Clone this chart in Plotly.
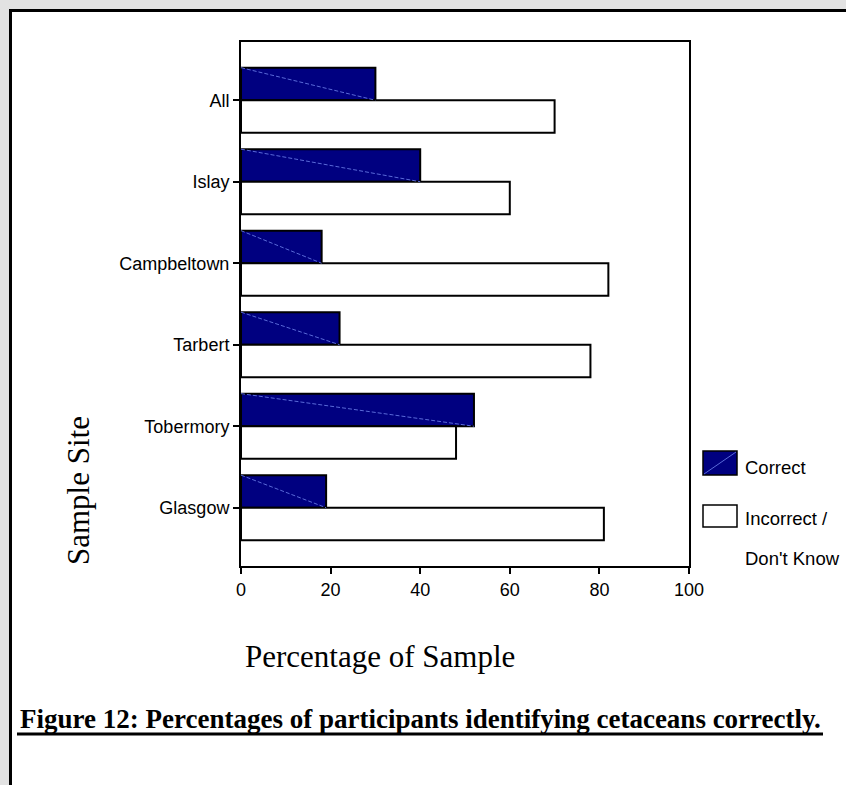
import plotly.graph_objects as go

# Survey results per sample site (percent of respondents)
sites = ["All", "Islay", "Campbeltown", "Tarbert", "Tobermory", "Glasgow"]
correct = [30, 40, 18, 22, 52, 19]
incorrect = [70, 60, 82, 78, 48, 81]
x_ticks = [0, 20, 40, 60, 80, 100]

NAVY = "#000080"
STREAK = "#5a6ad8"
SANS = "Arial, Liberation Sans, sans-serif"
SERIF = "Times New Roman, Liberation Serif, serif"

# numeric category positions, first site at the top
pos = list(range(len(sites) - 1, -1, -1))
bw = 0.4

W, H = 846, 785
L, R, T, B = 241, 157, 42, 219
PW, PH = W - L - R, H - T - B


def px(x):
    return (x - L) / PW


def py(y):
    return (H - B - y) / PH


fig = go.Figure()

fig.add_trace(go.Bar(
    y=pos, x=correct, orientation="h", width=bw, offset=0,
    marker=dict(color=NAVY, line=dict(color="black", width=2)),
    name="Correct", showlegend=False, hoverinfo="x",
))
fig.add_trace(go.Bar(
    y=pos, x=incorrect, orientation="h", width=bw, offset=-bw,
    marker=dict(color="white", line=dict(color="black", width=2)),
    name="Incorrect / Don't Know", showlegend=False, hoverinfo="x",
))

# light diagonal streak across each navy bar
sx, sy = [], []
for p, v in zip(pos, correct):
    sx += [0, v, None]
    sy += [p + bw, p, None]
fig.add_trace(go.Scatter(
    x=sx, y=sy, mode="lines", showlegend=False, hoverinfo="skip",
    line=dict(color=STREAK, width=1, dash="4px,2px"),
))

shapes = [
    # white page panel with heavy border
    dict(type="rect", xref="paper", yref="paper",
         x0=px(10.5), x1=px(900), y0=py(900), y1=py(10.5),
         fillcolor="white", line=dict(color="black", width=3), layer="below"),
    # legend swatches
    dict(type="rect", xref="paper", yref="paper",
         x0=px(703), x1=px(737), y0=py(475), y1=py(451),
         fillcolor=NAVY, line=dict(color="black", width=1.5)),
    dict(type="line", xref="paper", yref="paper",
         x0=px(704), x1=px(736), y0=py(474), y1=py(452),
         line=dict(color=STREAK, width=1)),
    dict(type="rect", xref="paper", yref="paper",
         x0=px(703), x1=px(737), y0=py(527), y1=py(505),
         fillcolor="white", line=dict(color="black", width=1.5)),
    # caption underline
    dict(type="line", xref="paper", yref="paper",
         x0=px(17), x1=px(823), y0=py(734), y1=py(734),
         line=dict(color="black", width=3)),
]

annotations = [
    dict(text="Correct", x=px(743), y=py(467), xanchor="left", yanchor="middle"),
    dict(text="Incorrect /", x=px(743), y=py(518), xanchor="left", yanchor="middle"),
    dict(text="Don't Know", x=px(743), y=py(558), xanchor="left", yanchor="middle"),
]
for a in annotations:
    a.update(xref="paper", yref="paper", showarrow=False,
             font=dict(family=SANS, size=18.5, color="black"))

annotations += [
    dict(text="Sample Site", x=px(78), y=py(491), xref="paper", yref="paper",
         showarrow=False, textangle=-90, xanchor="center", yanchor="middle",
         font=dict(family=SERIF, size=31, color="black")),
    dict(text="Percentage of Sample", x=px(380), y=py(656), xref="paper", yref="paper",
         showarrow=False, xanchor="center", yanchor="middle",
         font=dict(family=SERIF, size=31, color="black")),
    dict(text="<b>Figure 12: Percentages of participants identifying cetaceans correctly.</b>",
         x=px(420), y=py(719), xref="paper", yref="paper",
         showarrow=False, xanchor="center", yanchor="middle",
         font=dict(family=SERIF, size=27, color="black")),
]

fig.update_layout(
    width=W, height=H,
    margin=dict(l=L, r=R, t=T, b=B, pad=0),
    paper_bgcolor="#e2e2e2",
    plot_bgcolor="white",
    barmode="overlay",
    shapes=shapes,
    annotations=annotations,
    xaxis=dict(
        range=[0, 100], tickvals=x_ticks, ticktext=[str(t) for t in x_ticks],
        ticks="outside", ticklen=6, tickwidth=1.5, tickcolor="black",
        showline=True, linecolor="black", linewidth=2, mirror=True,
        showgrid=False, zeroline=False,
        tickfont=dict(family=SANS, size=18, color="black"),
    ),
    yaxis=dict(
        range=[-0.715, len(sites) - 1 + 0.715], tickvals=pos, ticktext=sites,
        ticks="outside", ticklen=6, tickwidth=1.5, tickcolor="black",
        showline=True, linecolor="black", linewidth=2, mirror=True,
        showgrid=False, zeroline=False,
        tickfont=dict(family=SANS, size=18, color="black"),
    ),
)

fig.write_html("out.html")
